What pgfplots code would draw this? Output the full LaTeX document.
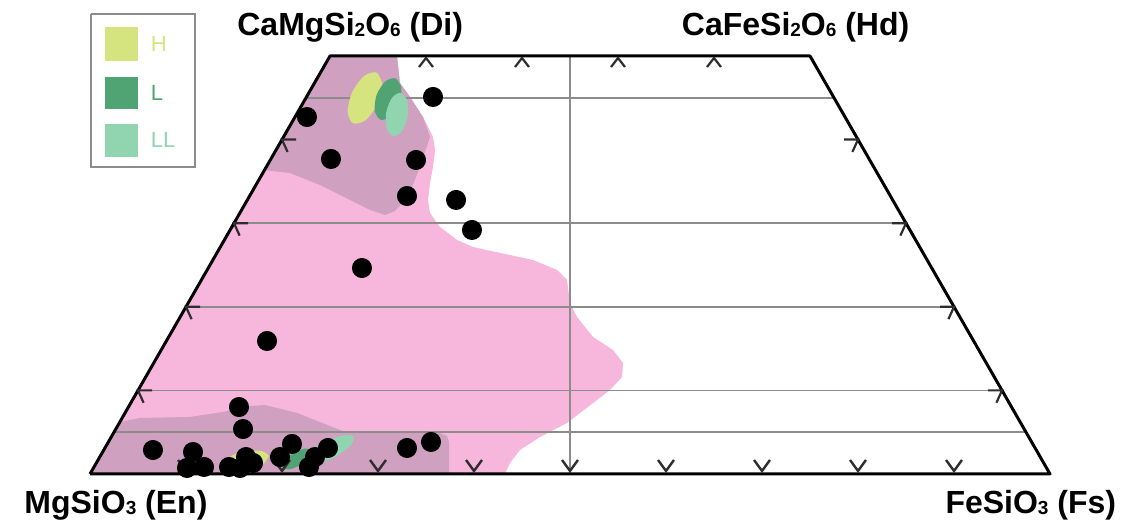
\documentclass[border=0pt]{standalone}
\usepackage{pgfplots}
\pgfplotsset{compat=1.18}
\usepackage{fontspec}
\setmainfont{Liberation Sans}
\definecolor{pinkreg}{RGB}{247,183,221}
\definecolor{mauvereg}{RGB}{208,160,192}
\definecolor{Hcol}{RGB}{214,228,128}
\definecolor{Lcol}{RGB}{80,164,116}
\definecolor{LLcol}{RGB}{144,212,176}
\definecolor{gridgray}{RGB}{140,140,140}
\definecolor{tickcol}{RGB}{45,45,45}
\newcommand{\sub}[1]{\raisebox{-0.8pt}{\fontsize{9.5}{9.5}\selectfont\bfseries #1}}
\pgfdeclareplotmark{tup}{\pgfpathmoveto{\pgfqpoint{-3.5pt}{-2.25pt}}\pgfpathlineto{\pgfqpoint{0pt}{2.25pt}}\pgfpathlineto{\pgfqpoint{3.5pt}{-2.25pt}}\pgfusepathqstroke}
\pgfdeclareplotmark{tdown}{\pgfpathmoveto{\pgfqpoint{-4pt}{2.75pt}}\pgfpathlineto{\pgfqpoint{0pt}{-2.75pt}}\pgfpathlineto{\pgfqpoint{4pt}{2.75pt}}\pgfusepathqstroke}
\pgfdeclareplotmark{tleft}{\pgfpathmoveto{\pgfqpoint{7pt}{0pt}}\pgfpathlineto{\pgfqpoint{0pt}{0pt}}\pgfpathlineto{\pgfqpoint{2.8pt}{-6.2pt}}\pgfusepathqstroke}
\pgfdeclareplotmark{tright}{\pgfpathmoveto{\pgfqpoint{-7pt}{0pt}}\pgfpathlineto{\pgfqpoint{0pt}{0pt}}\pgfpathlineto{\pgfqpoint{-2.8pt}{-6.2pt}}\pgfusepathqstroke}
\begin{document}
\begin{tikzpicture}
\begin{axis}[scale only axis, width=565.5pt, height=264.5pt,
  xmin=-9.375, xmax=108.4375, ymin=-6.579, ymax=56.699,
  hide axis, clip=false]
% bounding frame (invisible)
\addplot[draw=none, forget plot] coordinates {(-9.375,-6.579) (108.4375,56.699)};
% light pink field
\addplot[fill=pinkreg, draw=none, forget plot] coordinates {
(25,50) (31.98,50) (32.29,46.77) (33.33,45.10) (34.69,42.70) (35.73,40.31) (35.94,38.76) (35.73,36.72) (35.42,34.81) (35.21,32.78) (35.42,31.22) (36.46,29.55) (38.23,27.99) (39.90,27.15) (42.71,26.44) (46.15,25.60) (48.65,24.40) (49.69,23.21) (50.00,20.45) (50.73,18.78) (52.40,16.39) (54.48,14.83) (55.52,13.28) (55.42,11.60) (54.17,10.05) (52.40,8.49) (49.69,6.10) (46.88,4.43) (44.79,2.87) (43.75,1.32) (43.23,0) (0,0)};
% mauve upper field
\addplot[fill=mauvereg, draw=none, forget plot] coordinates {
(18.18,36.36) (20.83,36.00) (23.96,34.57) (27.08,32.78) (29.17,31.58) (30.73,30.98) (31.77,31.46) (32.81,32.78) (33.54,34.33) (34.17,36.12) (34.79,38.16) (35.42,40.31) (34.69,42.70) (33.33,45.10) (32.29,46.77) (31.98,50) (25,50)};
% mauve lower field
\addplot[fill=mauvereg, draw=none, forget plot] coordinates {
(0,0) (3.11,6.22) (5.21,6.70) (10.42,6.82) (13.85,7.42) (16.67,8.13) (18.23,8.25) (21.56,7.30) (23.96,6.22) (26.04,5.26) (27.08,4.90) (36.46,4.90) (37.19,4.55) (37.40,3.83) (37.40,0)};
% grid lines
\addplot[gridgray, line width=0.8pt, forget plot] coordinates {(22.5,45) (77.5,45)};
\addplot[gridgray, line width=0.8pt, forget plot] coordinates {(15,30) (85,30)};
\addplot[gridgray, line width=0.8pt, forget plot] coordinates {(10,20) (90,20)};
\addplot[gridgray, line width=0.8pt, forget plot] coordinates {(5,10) (95,10)};
\addplot[gridgray, line width=0.8pt, forget plot] coordinates {(2.5,5) (97.5,5)};
\addplot[gridgray, line width=0.8pt, forget plot] coordinates {(50,0) (50,50)};
% upper ellipses H, L, LL
\addplot[fill=Hcol, draw=none, smooth, forget plot] coordinates {
(29.88,48.01) (30.45,46.63) (29.97,44.27) (28.71,42.33) (27.42,41.94) (26.84,43.33) (27.32,45.68) (28.58,47.62) (29.88,48.01) (30.45,46.63)};
\addplot[fill=Lcol, draw=none, smooth, forget plot] coordinates {
(31.82,47.33) (32.43,46.26) (32.22,44.37) (31.32,42.76) (30.26,42.38) (29.66,43.46) (29.86,45.35) (30.76,46.95) (31.82,47.33) (32.43,46.26)};
\addplot[fill=LLcol, draw=none, smooth, forget plot] coordinates {
(32.38,45.60) (33.06,44.68) (33.10,42.78) (32.50,41.01) (31.58,40.41) (30.90,41.33) (30.85,43.23) (31.46,45.00) (32.38,45.60) (33.06,44.68)};
% lower ellipses LL, L, H
\addplot[fill=LLcol, draw=none, smooth, forget plot] coordinates {
(27.56,4.44) (27.02,3.27) (25.11,1.79) (22.96,0.89) (21.81,1.06) (22.35,2.24) (24.26,3.71) (26.42,4.62) (27.56,4.44) (27.02,3.27)};
\addplot[fill=Lcol, draw=none, smooth, forget plot] coordinates {
(23.09,2.81) (22.91,2.00) (21.93,1.07) (20.74,0.56) (20.03,0.78) (20.22,1.59) (21.20,2.52) (22.39,3.03) (23.09,2.81) (22.91,2.00)};
\addplot[fill=Hcol, draw=none, smooth, forget plot] coordinates {
(18.61,2.13) (18.06,1.24) (16.52,0.61) (14.88,0.60) (14.09,1.22) (14.65,2.11) (16.19,2.74) (17.83,2.75) (18.61,2.13) (18.06,1.24)};
% outline
\addplot[black, line width=1.5pt, line join=round, forget plot] coordinates {(0,0) (100,0) (75,50) (25,50) (0,0)};
% ticks
\addplot[only marks, mark=tup, mark options={tickcol, line width=1.1pt}, forget plot] coordinates {(35,49.22) (45,49.22) (55,49.22) (65,49.22)};
\addplot[only marks, mark=tdown, mark options={tickcol, line width=1.2pt}, forget plot] coordinates {(10,1.02) (20,1.02) (30,1.02) (40,1.02) (50,1.02) (60,1.02) (70,1.02) (80,1.02) (90,1.02)};
\addplot[only marks, mark=tleft, mark options={tickcol, line width=1.1pt}, forget plot] coordinates {(5,10) (10,20) (15,30) (20,40)};
\addplot[only marks, mark=tright, mark options={tickcol, line width=1.1pt}, forget plot] coordinates {(95,10) (90,20) (85,30) (80,40)};
% data points
\addplot[only marks, mark=*, mark size=4.8pt, mark options={fill=black, draw=black}, forget plot] coordinates {
(35.73,45.10) (22.60,42.70) (25.10,37.68) (33.96,37.56) (33.02,33.25) (38.13,32.78) (39.79,29.19) (28.33,24.64) (18.44,15.91) (15.52,8.01) (15.94,5.38)
(6.56,2.87) (10.73,2.63) (10.10,0.72) (11.88,0.84) (14.48,0.84) (16.25,2.03) (16.98,1.32) (15.63,0.72) (19.79,2.03) (21.04,3.59) (22.81,0.84) (23.44,2.03) (24.79,3.11) (33.02,3.11) (35.52,3.83)};
% legend box
\addplot[draw=gridgray, line width=0.6pt, fill=white, forget plot] coordinates {(0.10,55.02) (10.94,55.02) (10.94,36.72) (0.10,36.72) (0.10,55.02)};
\addplot[fill=Hcol, draw=none, forget plot] coordinates {(1.56,53.47) (5.0,53.47) (5.0,49.40) (1.56,49.40)};
\addplot[fill=Lcol, draw=none, forget plot] coordinates {(1.56,47.49) (5.0,47.49) (5.0,43.66) (1.56,43.66)};
\addplot[fill=LLcol, draw=none, forget plot] coordinates {(1.56,41.87) (5.0,41.87) (5.0,37.92) (1.56,37.92)};
\node[anchor=west, font=\fontsize{11}{13}\selectfont, text=Hcol, inner sep=0pt] at (axis cs:6.3,51.44) {H};
\node[anchor=west, font=\fontsize{11}{13}\selectfont, text=Lcol, inner sep=0pt] at (axis cs:6.3,45.57) {L};
\node[anchor=west, font=\fontsize{11}{13}\selectfont, text=LLcol, inner sep=0pt] at (axis cs:6.3,39.95) {LL};
% corner labels
\node[font=\fontsize{16}{19}\selectfont\bfseries, inner sep=0pt] at (axis cs:27.1,53.47) {CaMgSi\sub{2}O\sub{6} (Di)};
\node[font=\fontsize{16}{19}\selectfont\bfseries, inner sep=0pt] at (axis cs:73.5,53.47) {CaFeSi\sub{2}O\sub{6} (Hd)};
\node[font=\fontsize{16}{19}\selectfont\bfseries, inner sep=0pt] at (axis cs:2.7,-3.71) {MgSiO\sub{3} (En)};
\node[font=\fontsize{16}{19}\selectfont\bfseries, inner sep=0pt] at (axis cs:98.0,-3.71) {FeSiO\sub{3} (Fs)};
\end{axis}
\end{tikzpicture}
\end{document}
